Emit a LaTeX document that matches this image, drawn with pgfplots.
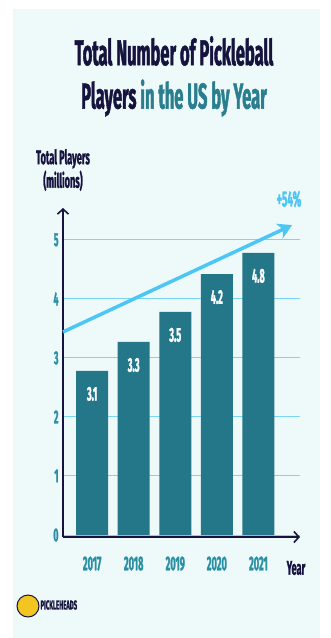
\documentclass[border=0pt]{standalone}
\usepackage{fontspec}
\usepackage{pgfplots}
\usepackage{pgfplotstable}
\pgfplotsset{compat=1.18}
\usetikzlibrary{arrows.meta}
\setmainfont{Fira Sans}
\newfontfamily\cond[FakeStretch=0.46,FakeBold=1.2]{Fira Sans}
\definecolor{navy}{HTML}{16143F}
\definecolor{tealtxt}{HTML}{2A7E8E}
\definecolor{barc}{HTML}{237789}
\definecolor{ticktxt}{HTML}{2B8FA3}
\definecolor{lblue}{HTML}{4CC6F4}
\definecolor{gridc}{HTML}{7AD6F6}
\definecolor{bg}{HTML}{EEF9FA}
\definecolor{ballY}{HTML}{F2C521}
\pgfplotstableread{
x y lab
0 2.78 3.1
1 3.27 3.3
2 3.78 3.5
3 4.42 4.2
4 4.78 4.8
}\bars
\begin{document}
\begin{tikzpicture}
\useasboundingbox (0,0) rectangle (331bp,-638bp);
\fill[white] (0,0) rectangle (331bp,-638bp);
\fill[bg] (13bp,-9bp) rectangle (320bp,-638bp);
\node[navy,font=\cond\bfseries\fontsize{36}{36}\selectfont] at (174bp,-51bp) {Total Number of Pickleball};
\node[font=\cond\bfseries\fontsize{36}{36}\selectfont] at (174bp,-98bp) {\textcolor{navy}{Players} \textcolor{tealtxt}{in the US by Year}};
\node[navy,font=\cond\bfseries\fontsize{20}{20}\selectfont,align=center] at (63bp,-170bp) {Total Players\\[1bp](millions)};
\node[lblue,font=\cond\bfseries\fontsize{22}{22}\selectfont] at (289bp,-199bp) {+54\%};
\begin{axis}[
  at={(63bp,-537bp)}, anchor=south west,
  scale only axis, width=237bp, height=329bp,
  xmin=-0.70, xmax=5.0, ymin=-0.034, ymax=5.54,
  axis x line=bottom, axis y line=left,
  axis line style={navy, line width=1.8bp, -{Straight Barb[length=5bp,width=11bp,line width=1.6bp]}},
  xtick={0,1,2,3,4}, xticklabels={2017,2018,2019,2020,2021},
  ytick={0,1,2,3,4,5},
  major tick length=0pt,
  ymajorgrids, grid style={gridc, line width=1bp},
  /pgf/number format/assume math mode=true,
  yticklabel style={ticktxt, font=\cond\bfseries\fontsize{19}{19}\selectfont, xshift=-1bp},
  xticklabel style={ticktxt, font=\cond\bfseries\fontsize{20}{20}\selectfont, yshift=-16bp},
  clip=false,
]
\addplot[ybar, bar width=32bp, fill=barc, draw=none,
  point meta=explicit symbolic,
  nodes near coords,
  nodes near coords style={white, font=\cond\bfseries\fontsize{20}{20}\selectfont, anchor=center, yshift=-23bp}]
  table[x=x, y=y, meta=lab] {\bars};
\addplot[lblue, line width=3.5bp, -{Stealth[length=14bp,width=16bp,inset=4bp]}] coordinates {(-0.70,3.44) (4.81,5.25)};
\end{axis}
\node[navy,font=\cond\bfseries\fontsize{20}{20}\selectfont] at (296bp,-568bp) {Year};
\fill[ballY, draw=navy, line width=1bp] (28bp,-606bp) circle (11bp);
\node[navy,font=\cond\bfseries\fontsize{13}{13}\selectfont,anchor=west] at (37bp,-605bp) {PICKLEHEADS};
\end{tikzpicture}
\end{document}
